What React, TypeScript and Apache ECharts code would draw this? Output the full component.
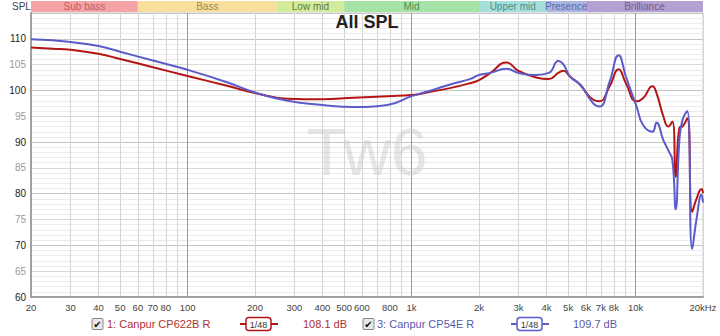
import React, { useEffect, useRef } from "react";
import * as echarts from "echarts";

const freqs = [20, 25, 30, 40, 50, 70, 100, 150, 200, 280, 400, 550, 780, 1000, 1200, 1500, 1820, 2000, 2250, 2650, 3000, 3600, 4100, 4520, 4770, 5100, 5660, 6470, 6900, 7660, 8400, 9050, 10100, 10800, 11900, 12400, 13300, 14000, 14600, 15100, 15700, 16200, 17000, 17900, 18700, 19700, 20000];
const redSPL = [108.3, 108.1, 107.9, 107.1, 106.1, 104.5, 102.8, 100.9, 99.5, 98.4, 98.3, 98.6, 98.9, 99.1, 99.7, 100.5, 101.4, 102.0, 103.4, 105.4, 103.8, 102.5, 102.2, 103.4, 103.8, 102.7, 101.1, 98.2, 97.9, 100.8, 104.1, 101.4, 97.9, 98.5, 100.8, 99.5, 95.0, 93.0, 94.0, 83.3, 92.8, 93.0, 94.6, 76.5, 79.0, 80.9, 80.1];
const blueSPL = [109.9, 109.7, 109.4, 108.6, 107.5, 105.8, 104.0, 101.6, 99.6, 98.0, 97.2, 96.8, 97.2, 98.9, 99.9, 101.2, 102.2, 103.0, 103.4, 104.2, 103.4, 103.0, 103.4, 105.7, 105.0, 102.7, 101.1, 97.5, 96.9, 101.7, 106.8, 102.7, 96.9, 93.3, 92.0, 93.8, 90.4, 88.4, 86.5, 77.0, 90.5, 94.3, 96.0, 69.3, 75.0, 79.8, 78.3];

const xLabelFreqs = [20, 30, 40, 50, 60, 70, 80, 100, 200, 300, 400, 500, 600, 800, 1000, 2000, 3000, 4000, 5000, 6000, 7000, 8000, 10000, 20000];
const xGridFreqs = [20, 30, 40, 50, 60, 70, 80, 90, 100, 200, 300, 400, 500, 600, 700, 800, 900, 1000, 2000, 3000, 4000, 5000, 6000, 7000, 8000, 9000, 10000, 20000];
const xMajorFreqs = [100, 1000, 10000];

const bandNames = ["Sub bass", "Bass", "Low mid", "Mid", "Upper mid", "Presence", "Brilliance"];
const bandEdges = [20, 60, 250, 500, 2000, 4000, 6000, 20000];
const bandFill = ["#f4a3a6", "#f9df9b", "#d3eb9d", "#a5e3a6", "#a5dfdc", "#a9b6e2", "#b5a1d1"];
const bandText = ["#c25a5a", "#9c8a52", "#5f7a3e", "#4f8f52", "#4f8c8a", "#5d6aa8", "#6e5c8c"];

const seriesNames = ["1: Canpur CP622B R", "3: Canpur CP54E R"];
const seriesLevels = ["108.1 dB", "109.7 dB"];
const seriesColors = ["#b31515", "#5b5bc9"];
const seriesTextColors = ["#b03030", "#5a5aa8"];

const FONT = "'Liberation Sans', Arial, sans-serif";
const lg = (f: number) => Math.log10(f);

function fmtFreq(v: number) {
  const f = Math.round(Math.pow(10, v));
  if (f >= 20000) return "20kHz";
  if (f >= 1000) return f / 1000 + "k";
  return String(f);
}

export default function App() {
  const ref = useRef<HTMLDivElement>(null);
  useEffect(() => {
    if (!ref.current) return;
    const chart = echarts.init(ref.current, undefined, { renderer: "svg" });
    const xmin = lg(20);
    const xmax = lg(20000);
    const yBase = {
      type: "value",
      min: 60,
      max: 115,
      position: "left",
      axisTick: { show: false },
    };
    const xBase = {
      type: "value",
      min: xmin,
      max: xmax,
      position: "bottom",
      axisTick: { show: false },
    };
    chart.setOption({
      animation: false,
      textStyle: { fontFamily: FONT },
      grid: { left: 31, right: 17, top: 13, bottom: 39, show: true, borderColor: "#c8c8c8", borderWidth: 1 },
      xAxis: [
        {
          ...xBase,
          axisLine: { show: true, lineStyle: { color: "#a0a0a0", width: 2 } },
          axisTick: { show: false, customValues: xGridFreqs.map(lg) },
          axisLabel: {
            customValues: xLabelFreqs.map(lg),
            formatter: (v: number) => fmtFreq(v),
            color: "#444",
            fontSize: 9.5,
            fontFamily: FONT,
            margin: 5,
          },
          splitLine: { show: true, lineStyle: { color: "#d6d6d6", width: 1 } },
        },
        {
          ...xBase,
          axisLine: { show: false },
          axisTick: { show: false, customValues: xMajorFreqs.map(lg) },
          axisLabel: { show: false, customValues: xMajorFreqs.map(lg) },
          splitLine: { show: true, lineStyle: { color: "#9a9a9a", width: 1 } },
        },
      ],
      yAxis: [
        {
          ...yBase,
          interval: 1,
          axisLine: { show: true, lineStyle: { color: "#a0a0a0", width: 2 } },
          axisLabel: { show: false },
          splitLine: { show: true, lineStyle: { color: "#ececec" } },
        },
        {
          ...yBase,
          interval: 5,
          axisLine: { show: false },
          axisLabel: {
            fontSize: 10,
            fontFamily: FONT,
            margin: 5,
            formatter: (v: number) => (v >= 115 ? "" : v % 10 === 0 ? "{a|" + v + "}" : "{b|" + v + "}"),
            rich: {
              a: { color: "#222", fontSize: 10, fontFamily: FONT },
              b: { color: "#9a9a9a", fontSize: 10, fontFamily: FONT },
            },
          },
          splitLine: { show: true, lineStyle: { color: "#dadada" } },
        },
        {
          ...yBase,
          interval: 10,
          axisLine: { show: false },
          axisLabel: { show: false },
          splitLine: { show: true, lineStyle: { color: "#c6c6c6" } },
        },
      ],
      series: [
        {
          type: "line",
          name: seriesNames[0],
          data: freqs.map((f, i) => [lg(f), redSPL[i]]),
          showSymbol: false,
          smooth: 0.5,
          lineStyle: { color: seriesColors[0], width: 2 },
          z: 3,
        },
        {
          type: "line",
          name: seriesNames[1],
          data: freqs.map((f, i) => [lg(f), blueSPL[i]]),
          showSymbol: false,
          smooth: 0.5,
          lineStyle: { color: seriesColors[1], width: 2 },
          z: 4,
        },
      ],
    });

    const px = (f: number) => chart.convertToPixel({ xAxisIndex: 0 }, lg(f)) as number;
    const graphics: any[] = [];
    bandNames.forEach((name, i) => {
      const x0 = px(bandEdges[i]);
      const x1 = px(bandEdges[i + 1]);
      graphics.push({
        type: "rect",
        shape: { x: x0, y: 1, width: x1 - x0, height: 11 },
        style: { fill: bandFill[i], stroke: null },
        z: 5,
      });
      graphics.push({
        type: "text",
        x: (x0 + x1) / 2,
        y: 6.5,
        style: { text: name, fill: bandText[i], font: "10px " + FONT, align: "center", verticalAlign: "middle" },
        z: 6,
      });
    });
    graphics.push({
      type: "text",
      x: 12,
      y: 6,
      style: { text: "SPL", fill: "#444", font: "10px " + FONT, align: "left", verticalAlign: "middle" },
    });
    graphics.push({
      type: "text",
      x: 367,
      y: 22,
      style: { text: "All SPL", fill: "#222", font: "bold 18px " + FONT, align: "center", verticalAlign: "middle" },
      z: 6,
    });
    graphics.push({
      type: "text",
      x: 367,
      y: 152,
      style: { text: "Tw6", fill: "rgba(200,200,200,0.45)", font: "66px " + FONT, align: "center", verticalAlign: "middle" },
      z: 1,
    });
    const legendX = [
      { cb: 92, name: 107, sym: 240, lvl: 303 },
      { cb: 363, name: 377, sym: 511, lvl: 573 },
    ];
    const ly = 324;
    legendX.forEach((p, i) => {
      graphics.push({
        type: "rect",
        shape: { x: p.cb, y: ly - 5.5, width: 11, height: 11, r: 1 },
        style: { fill: "#e8e8e8", stroke: "#888", lineWidth: 1 },
      });
      graphics.push({
        type: "text",
        x: p.cb + 5.5,
        y: ly,
        style: { text: "✔", fill: "#111", font: "bold 10px 'DejaVu Sans'", align: "center", verticalAlign: "middle" },
      });
      graphics.push({
        type: "text",
        x: p.name,
        y: ly,
        style: { text: seriesNames[i], fill: seriesTextColors[i], font: "11px " + FONT, align: "left", verticalAlign: "middle" },
      });
      graphics.push({
        type: "line",
        shape: { x1: p.sym, y1: ly, x2: p.sym + 38, y2: ly },
        style: { stroke: seriesColors[i], lineWidth: 2 },
      });
      graphics.push({
        type: "rect",
        shape: { x: p.sym + 6, y: ly - 6.5, width: 25, height: 13, r: 3 },
        style: { fill: "#fff", stroke: seriesColors[i], lineWidth: 1.5 },
      });
      graphics.push({
        type: "text",
        x: p.sym + 18.5,
        y: ly + 0.5,
        style: { text: "1/48", fill: "#333", font: "9px " + FONT, align: "center", verticalAlign: "middle" },
      });
      graphics.push({
        type: "text",
        x: p.lvl,
        y: ly,
        style: { text: seriesLevels[i], fill: seriesTextColors[i], font: "11px " + FONT, align: "left", verticalAlign: "middle" },
      });
    });
    chart.setOption({ graphic: graphics });
    return () => chart.dispose();
  }, []);
  return <div ref={ref} style={{ position: "fixed", left: 0, top: 0, width: 720, height: 336, background: "#fff" }} />;
}
